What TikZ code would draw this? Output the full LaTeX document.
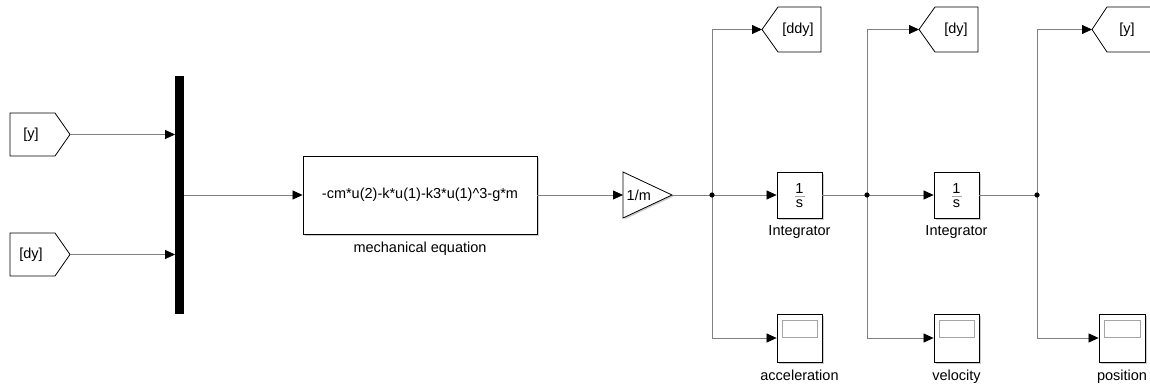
\documentclass[tikz,border=0pt]{standalone}
\usepackage{fontspec}
\setmainfont{Liberation Sans}
\usetikzlibrary{arrows.meta,calc,shadows}
\definecolor{wirec}{RGB}{128,128,128}
\definecolor{shadowc}{RGB}{205,205,205}
\definecolor{screenc}{RGB}{165,165,165}
\begin{document}
\begin{tikzpicture}[x=1pt,y=-1pt,
  wire/.style={draw=wirec,line width=0.75pt},
  arr/.style={wire,-{Triangle[length=10pt,width=9pt,color=black]}},
  blk/.style={draw=black,line width=0.8pt,fill=white,inner sep=0pt,
    general shadow={fill=shadowc,shadow xshift=1.5pt,shadow yshift=-1.5pt}},
  tagshape/.style={draw=black,line width=0.8pt,fill=white},
  lbl/.style={font=\fontsize{14.5}{17}\selectfont,inner sep=0pt},
  dot/.style={fill=black}
]
\useasboundingbox (0,0) rectangle (1150,385);
\clip (0,0) rectangle (1150,385);

% ---- left From tags ----
\draw[tagshape] (10,113) -- (55,113) -- (70,134.5) -- (55,156) -- (10,156) -- cycle;
\coordinate (ty) at (70,134.5);
\node[lbl] (tyt) at (31,134.5) {[y]};
\draw[tagshape] (10,233) -- (55,233) -- (70,254.5) -- (55,276) -- (10,276) -- cycle;
\coordinate (tdy) at (70,254.5);
\node[lbl] (tdyt) at (31,254.5) {[dy]};

% ---- mux ----
\node[fill=black,minimum width=8.5pt,minimum height=238pt,inner sep=0pt] (mux) at (179.5,195) {};
\draw[arr] (ty) -- (ty -| mux.west);
\draw[arr] (tdy) -- (tdy -| mux.west);

% ---- Fcn ----
\node[blk,lbl,minimum width=234pt,minimum height=78pt] (fcn) at (420,195)
  {-cm*u(2)-k*u(1)-k3*u(1)\textasciicircum 3-g*m};
\node[lbl,anchor=base] (fcnlbl) at (420,252) {mechanical equation};
\draw[arr] (mux.east) -- (fcn.west);

% ---- Gain ----
\draw[blk] (623,172) -- (672,195) -- (623,218) -- cycle;
\coordinate (gin) at (623,195);
\coordinate (gout) at (672,195);
\node[lbl,anchor=west] (gt) at (626.5,195) {1/m};
\draw[arr] (fcn.east) -- (gin);

% ---- Integrators ----
\node[blk,minimum width=45pt,minimum height=46pt] (int1) at (799.5,195) {};
\node[lbl,anchor=base] (int1n) at (799.5,193.5) {1};
\node[lbl,anchor=base] (int1d) at (799.5,207) {s};
\draw[screenc,line width=0.6pt] (794.5,196) -- (804.5,196);
\node[lbl,anchor=base] (int1l) at (799.5,235) {Integrator};

\node[blk,minimum width=45pt,minimum height=46pt] (int2) at (956.5,195) {};
\node[lbl,anchor=base] (int2n) at (956.5,193.5) {1};
\node[lbl,anchor=base] (int2d) at (956.5,207) {s};
\draw[screenc,line width=0.6pt] (951.5,196) -- (961.5,196);
\node[lbl,anchor=base] (int2l) at (956.5,235) {Integrator};

% ---- Scopes ----
\node[blk,minimum width=45pt,minimum height=48pt] (sc1) at (799.5,338) {};
\draw[screenc,line width=0.8pt,fill=white] ($(sc1.north west)+(6,7)$) rectangle ($(sc1.north east)+(-5,24)$);
\node[lbl,anchor=base] (sc1l) at (799.5,380) {acceleration};

\node[blk,minimum width=45pt,minimum height=48pt] (sc2) at (956.5,338) {};
\draw[screenc,line width=0.8pt,fill=white] ($(sc2.north west)+(6,7)$) rectangle ($(sc2.north east)+(-5,24)$);
\node[lbl,anchor=base] (sc2l) at (956.5,380) {velocity};

\node[blk,minimum width=46pt,minimum height=48pt] (sc3) at (1122,338) {};
\draw[screenc,line width=0.8pt,fill=white] ($(sc3.north west)+(6,7)$) rectangle ($(sc3.north east)+(-5,24)$);
\node[lbl,anchor=base] (sc3l) at (1122,380) {position};

% ---- Goto tags (top) ----
\draw[tagshape] (762,29.5) -- (778,7) -- (821,7) -- (821,52) -- (778,52) -- cycle;
\coordinate (gddy) at (762,29.5);
\node[lbl] (gddyt) at (798,29.5) {[ddy]};

\draw[tagshape] (919,29.5) -- (935,7) -- (978,7) -- (978,52) -- (935,52) -- cycle;
\coordinate (gdy) at (919,29.5);
\node[lbl] (gdyt) at (956,29.5) {[dy]};

\draw[tagshape] (1092,29.5) -- (1107,7) -- (1165,7) -- (1165,52) -- (1107,52) -- cycle;
\coordinate (gy) at (1092,29.5);
\node[lbl] (gyt) at (1127,29.5) {[y]};

% ---- junctions and wires ----
\coordinate (j1) at (712,195);
\coordinate (j2) at (867,195);
\coordinate (j3) at (1037,195);

\draw[arr] (gout) -- (int1.west);
\draw[arr] (j1) |- (gddy);
\draw[arr] (j1) |- (sc1.west);

\draw[arr] (int1.east) -- (int2.west);
\draw[arr] (j2) |- (gdy);
\draw[arr] (j2) |- (sc2.west);

\draw[wire] (int2.east) -- (j3);
\draw[arr] (j3) |- (gy);
\draw[arr] (j3) |- (sc3.west);

\fill[dot] (j1) circle (2.6);
\fill[dot] (j2) circle (2.6);
\fill[dot] (j3) circle (2.6);
\end{tikzpicture}
\end{document}
